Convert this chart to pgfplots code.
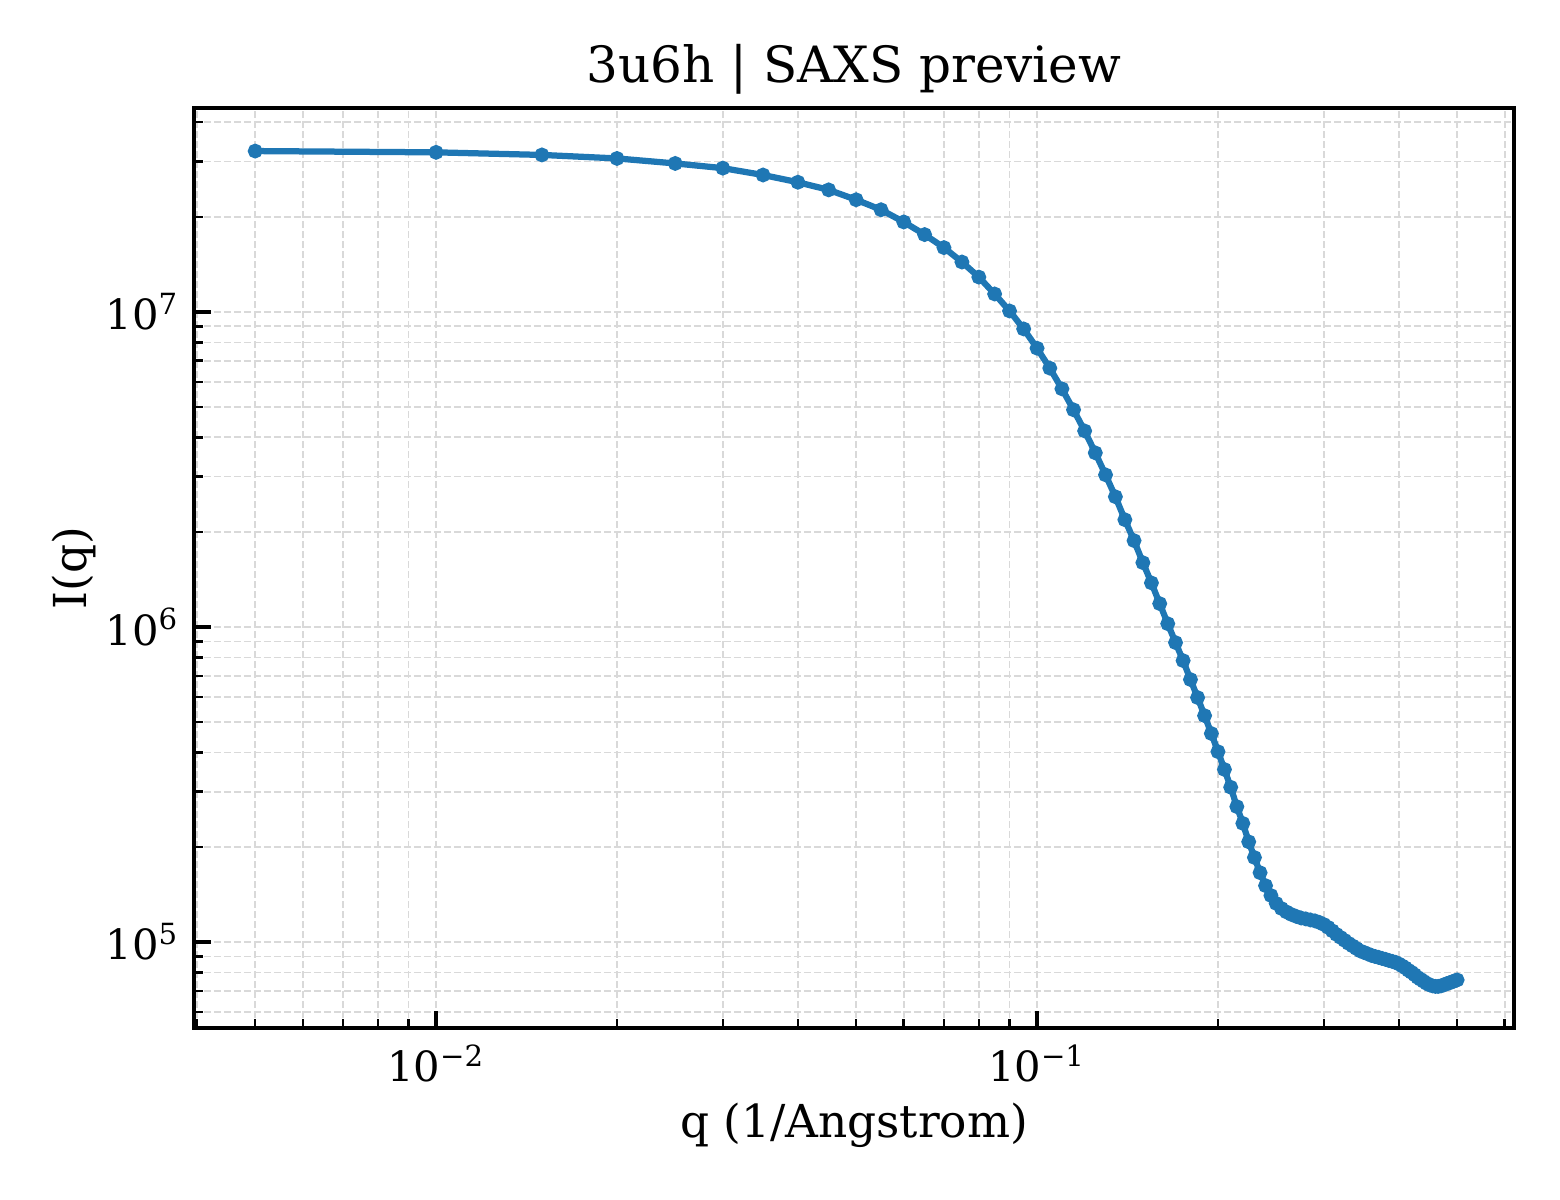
\documentclass[border=0pt]{standalone}
\usepackage{fontspec}
\setmainfont{DejaVu Serif}
\usepackage{pgfplots}
\pgfplotsset{compat=1.18}
\definecolor{mplblue}{HTML}{1F77B4}
\begin{document}
\begin{tikzpicture}
\useasboundingbox (-46.56pt,-41.28pt) rectangle (327.84pt,246.72pt);
\begin{axis}[
  at={(0,0)}, anchor=south west,
  scale only axis, width=316.8pt, height=220.8pt,
  xmode=log, ymode=log,
  xmin=0.003956, xmax=0.6217,
  ymin=5.336e4, ymax=4.44e7,
  xtick={0.01,0.1},
  xticklabels={10\textsuperscript{−2},10\textsuperscript{−1}},
  ytick={1e5,1e6,1e7},
  yticklabels={10\textsuperscript{5},10\textsuperscript{6},10\textsuperscript{7}},
  minor xtick={0.004,0.005,0.006,0.007,0.008,0.009,0.02,0.03,0.04,0.05,0.06,0.07,0.08,0.09,0.2,0.3,0.4,0.5,0.6},
  minor ytick={6e4,7e4,8e4,9e4,2e5,3e5,4e5,5e5,6e5,7e5,8e5,9e5,2e6,3e6,4e6,5e6,6e6,7e6,8e6,9e6,2e7,3e7,4e7},
  xtick pos=bottom, ytick pos=left,
  tick align=inside,
  major tick length=4pt, minor tick length=2.2pt,
  every tick/.style={black, line width=0.8pt},
  minor tick style={black, line width=0.6pt},
  axis line style={black, line width=0.9pt},
  grid=both,
  major grid style={gray!30, line width=0.4pt, dash pattern=on 1.6pt off 0.8pt},
  minor grid style={gray!30, line width=0.4pt, dash pattern=on 1.6pt off 0.8pt},
  ticklabel style={font=\fontsize{10}{12}\selectfont},
  xticklabel style={yshift=-0.5pt},
  title={3u6h | SAXS preview},
  title style={font=\fontsize{12}{14}\selectfont, at={(rel axis cs:0.5,1)}, anchor=base, yshift=0.2pt},
  xlabel={q (1/Angstrom)},
  xlabel style={font=\fontsize{10.9}{12}\selectfont, at={(rel axis cs:0.5,0)}, anchor=base, yshift=-26.3pt},
  ylabel={I(q)},
  ylabel style={font=\fontsize{10.9}{12}\selectfont, at={([xshift=-25.7pt]rel axis cs:0,0.5)}, anchor=base},
]
\addplot[color=mplblue, line width=1.5pt, mark=*, mark size=1.0pt, mark options={solid, fill=mplblue, draw=mplblue}]
table[row sep=\\] {
x y\\
0.005 3.24e7\\
0.010 3.21e7\\
0.015 3.15e7\\
0.020 3.07e7\\
0.025 2.96e7\\
0.030 2.86e7\\
0.035 2.72e7\\
0.040 2.58e7\\
0.045 2.44e7\\
0.050 2.27e7\\
0.055 2.11e7\\
0.060 1.93e7\\
0.065 1.76e7\\
0.070 1.60e7\\
0.075 1.44e7\\
0.080 1.29e7\\
0.085 1.14e7\\
0.090 1.007e7\\
0.095 8.83e6\\
0.100 7.67e6\\
0.105 6.63e6\\
0.110 5.70e6\\
0.115 4.89e6\\
0.120 4.19e6\\
0.125 3.57e6\\
0.130 3.04e6\\
0.135 2.59e6\\
0.140 2.19e6\\
0.145 1.88e6\\
0.150 1.60e6\\
0.155 1.38e6\\
0.160 1.186e6\\
0.165 1.024e6\\
0.170 8.92e5\\
0.175 7.82e5\\
0.180 6.81e5\\
0.185 5.97e5\\
0.190 5.23e5\\
0.195 4.59e5\\
0.200 4.02e5\\
0.205 3.53e5\\
0.210 3.10e5\\
0.215 2.69e5\\
0.220 2.38e5\\
0.225 2.08e5\\
0.230 1.855e5\\
0.235 1.66e5\\
0.240 1.51e5\\
0.245 1.405e5\\
0.250 1.326e5\\
0.255 1.278e5\\
0.260 1.246e5\\
0.265 1.223e5\\
0.270 1.206e5\\
0.275 1.192e5\\
0.280 1.184e5\\
0.285 1.175e5\\
0.290 1.167e5\\
0.295 1.154e5\\
0.300 1.137e5\\
0.305 1.113e5\\
0.310 1.085e5\\
0.315 1.057e5\\
0.320 1.034e5\\
0.325 1.012e5\\
0.330 9.90e4\\
0.335 9.72e4\\
0.340 9.54e4\\
0.345 9.37e4\\
0.350 9.27e4\\
0.355 9.17e4\\
0.360 9.07e4\\
0.365 9.00e4\\
0.370 8.94e4\\
0.375 8.87e4\\
0.380 8.81e4\\
0.385 8.74e4\\
0.390 8.68e4\\
0.395 8.62e4\\
0.400 8.52e4\\
0.405 8.40e4\\
0.410 8.28e4\\
0.415 8.13e4\\
0.420 8.01e4\\
0.425 7.87e4\\
0.430 7.72e4\\
0.435 7.61e4\\
0.440 7.50e4\\
0.445 7.39e4\\
0.450 7.31e4\\
0.455 7.26e4\\
0.460 7.23e4\\
0.465 7.23e4\\
0.470 7.26e4\\
0.475 7.31e4\\
0.480 7.37e4\\
0.485 7.42e4\\
0.490 7.47e4\\
0.495 7.53e4\\
0.500 7.58e4\\
};
\end{axis}
\end{tikzpicture}
\end{document}
